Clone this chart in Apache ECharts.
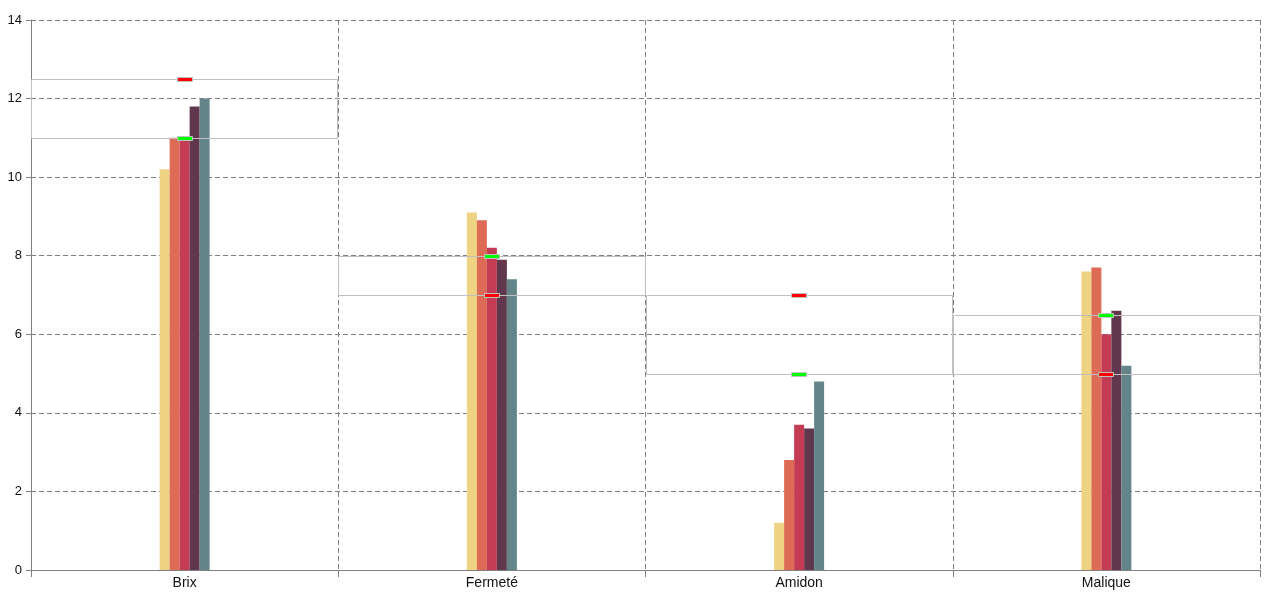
<!DOCTYPE html>
<html>
<head>
<meta charset="utf-8">
<script src="https://cdn.jsdelivr.net/npm/echarts@6/dist/echarts.min.js"></script>
<style>
html,body{margin:0;padding:0;background:#fff;}
#chart{width:1280px;height:600px;}
</style>
</head>
<body>
<div id="chart"></div>
<script>
const categories = ['Brix', 'Fermeté', 'Amidon', 'Malique'];
const serie1 = [10.2, 9.1, 1.2, 7.6];
const serie2 = [11.0, 8.9, 2.8, 7.7];
const serie3 = [11.0, 8.2, 3.7, 6.0];
const serie4 = [11.8, 7.9, 3.6, 6.6];
const serie5 = [12.0, 7.4, 4.8, 5.2];
const rangeLow = [11, 7, 5, 5];
const rangeHigh = [12.5, 8, 7, 6.5];
const greenMarks = [11, 8, 5, 6.5];
const redMarks = [12.5, 7, 7, 5];
const yTicks = [0, 2, 4, 6, 8, 10, 12, 14];

const seriesColors = ['#EDD382', '#DD6B55', '#C33C54', '#61374D', '#63858A'];
const seriesValues = [serie1, serie2, serie3, serie4, serie5];

const chart = echarts.init(document.getElementById('chart'));

const barSeries = seriesValues.map((vals, i) => ({
  name: 'Série ' + (i + 1),
  type: 'bar',
  data: vals,
  barWidth: 10,
  barGap: '0%',
  itemStyle: { color: seriesColors[i] },
  z: 2
}));

const rangeData = categories.map((c, i) => [i, rangeLow[i], rangeHigh[i]]);

function rangeRender(params, api) {
  const idx = api.value(0);
  const top = api.coord([idx, api.value(2)]);
  const bot = api.coord([idx, api.value(1)]);
  const bw = api.size([1, 0])[0];
  const x0 = Math.round(top[0] - bw / 2) + 0.5;
  const x1 = Math.round(top[0] + bw / 2) - 0.5;
  const y0 = Math.round(top[1]) + 0.5;
  const y1 = Math.round(bot[1]) + 0.5;
  return {
    type: 'rect',
    shape: { x: x0, y: y0, width: x1 - x0, height: y1 - y0 },
    style: { fill: 'none', stroke: '#C0C0C0', lineWidth: 1 }
  };
}

function markerRender(color) {
  return function (params, api) {
    const p = api.coord([api.value(0), api.value(1)]);
    const cx = Math.round(p[0]);
    const cy = Math.round(p[1]);
    return {
      type: 'rect',
      shape: { x: cx - 7.5, y: cy - 1.5, width: 15, height: 4 },
      style: { fill: color, stroke: '#C0C0C0', lineWidth: 1 }
    };
  };
}

const labelFont = 'Liberation Sans, Arial, sans-serif';

const option = {
  animation: false,
  backgroundColor: '#fff',
  grid: { left: 31, right: 20, top: 20, bottom: 30, containLabel: false },
  xAxis: {
    type: 'category',
    data: categories,
    boundaryGap: true,
    axisLine: { show: true, lineStyle: { color: '#808080', width: 1 } },
    axisTick: { show: true, length: 7, alignWithLabel: false, lineStyle: { color: '#808080' } },
    axisLabel: { color: '#111', fontSize: 14, fontFamily: labelFont, margin: 6 },
    splitLine: { show: true, lineStyle: { color: '#808080', type: [5, 3], width: 1 } }
  },
  yAxis: {
    type: 'value',
    min: yTicks[0],
    max: yTicks[yTicks.length - 1],
    interval: yTicks[1] - yTicks[0],
    axisLine: { show: true, lineStyle: { color: '#808080', width: 1 } },
    axisTick: { show: true, length: 5, lineStyle: { color: '#808080' } },
    axisLabel: { color: '#111', fontSize: 13, fontFamily: labelFont, margin: 9 },
    splitLine: { show: true, lineStyle: { color: '#808080', type: [5, 3], width: 1 } }
  },
  series: barSeries.concat([
    {
      name: 'Plage',
      type: 'custom',
      renderItem: rangeRender,
      data: rangeData,
      encode: { x: 0, y: [1, 2] },
      z: 3,
      silent: true
    },
    {
      name: 'Min',
      type: 'custom',
      renderItem: markerRender('#00FF00'),
      data: categories.map((c, i) => [i, greenMarks[i]]),
      encode: { x: 0, y: 1 },
      z: 4,
      silent: true
    },
    {
      name: 'Max',
      type: 'custom',
      renderItem: markerRender('#FF0000'),
      data: categories.map((c, i) => [i, redMarks[i]]),
      encode: { x: 0, y: 1 },
      z: 4,
      silent: true
    }
  ])
};
chart.setOption(option);
</script>
</body>
</html>
